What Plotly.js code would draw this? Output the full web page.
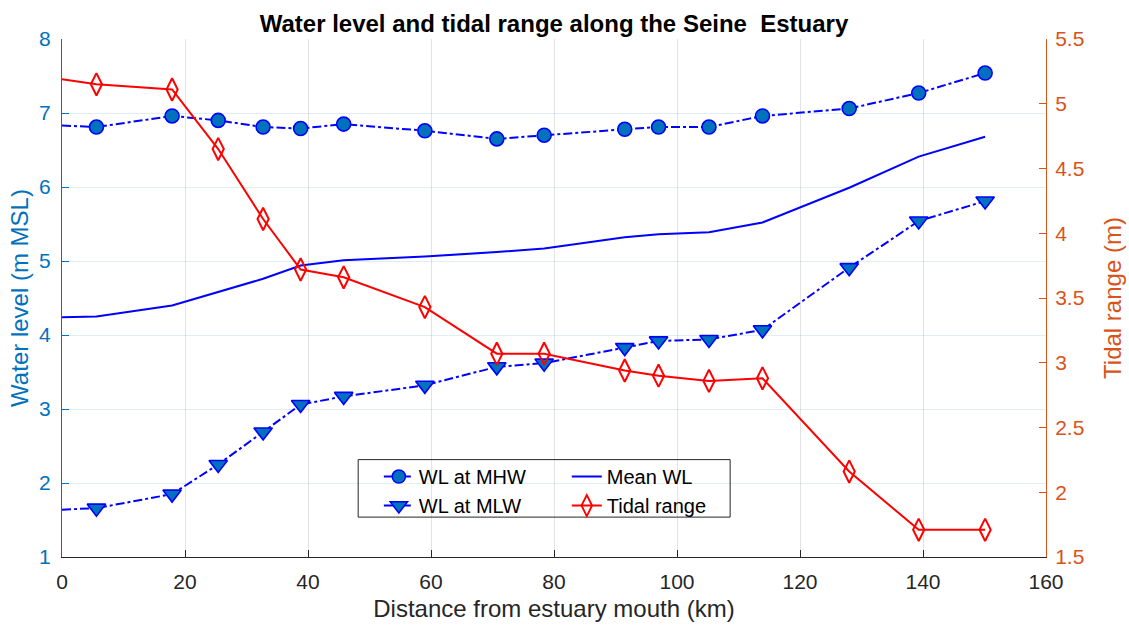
<!DOCTYPE html>
<html>
<head>
<meta charset="utf-8">
<script src="https://cdn.plot.ly/plotly-3.0.1.min.js"></script>
<style>html,body{margin:0;padding:0;background:#fff;}#chart{width:1129px;height:626px;}</style>
</head>
<body>
<div id="chart"></div>
<script>
// Data
const distanceKm = [0, 5.6, 17.9, 25.4, 32.7, 38.8, 45.8, 59.0, 70.7, 78.4, 91.5, 97.0, 105.2, 113.9, 128.0, 139.3, 150.1];
const wlMHW      = [6.83, 6.81, 6.96, 6.90, 6.81, 6.79, 6.85, 6.76, 6.65, 6.70, 6.78, 6.81, 6.81, 6.96, 7.06, 7.27, 7.54];
const wlMLW      = [1.64, 1.66, 1.85, 2.25, 2.69, 3.06, 3.17, 3.32, 3.57, 3.62, 3.83, 3.92, 3.94, 4.07, 4.91, 5.54, 5.81];
const meanWL     = [4.24, 4.25, 4.40, 4.58, 4.76, 4.94, 5.01, 5.06, 5.12, 5.17, 5.32, 5.36, 5.39, 5.52, 5.99, 6.41, 6.68];
const tidalRange = [5.19, 5.15, 5.11, 4.65, 4.11, 3.72, 3.66, 3.43, 3.07, 3.07, 2.94, 2.90, 2.86, 2.88, 2.16, 1.71, 1.71];
const seriesNames = ['WL at MHW', 'WL at MLW', 'Mean WL', 'Tidal range'];
const leftTicks = [1, 2, 3, 4, 5, 6, 7, 8];
const rightTicks = [1.5, 2, 2.5, 3, 3.5, 4, 4.5, 5, 5.5];
const xTicks = [0, 20, 40, 60, 80, 100, 120, 140, 160];

const FONT = 'Liberation Sans, Arial, Helvetica, sans-serif';
const BLUE = '#0000FF';
const FILL = '#0072BD';
const ORANGE = '#D95319';
const DARK = '#262626';

// markers only at measuring stations (not at the mouth, x = 0)
const mSize = (s) => distanceKm.map(d => d === 0 ? 0 : s);
const mLine = (w) => distanceKm.map(d => d === 0 ? 0 : w);

const traces = [
  {
    x: distanceKm, y: wlMHW, name: seriesNames[0], type: 'scatter', mode: 'lines+markers',
    line: {color: BLUE, width: 2, dash: 'dashdot'},
    marker: {symbol: 'circle', size: mSize(14), opacity: 1, color: FILL, line: {color: BLUE, width: mLine(1.6)}},
    legend: 'legend', yaxis: 'y'
  },
  {
    x: distanceKm, y: wlMLW, name: seriesNames[1], type: 'scatter', mode: 'lines+markers',
    line: {color: BLUE, width: 2, dash: 'dashdot'},
    marker: {symbol: 'triangle-down', size: mSize(16), opacity: 1, color: FILL, line: {color: BLUE, width: mLine(1.6)}},
    legend: 'legend', yaxis: 'y'
  },
  {
    x: distanceKm, y: meanWL, name: seriesNames[2], type: 'scatter', mode: 'lines',
    line: {color: BLUE, width: 2},
    legend: 'legend2', yaxis: 'y'
  },
  {
    x: distanceKm, y: tidalRange, name: seriesNames[3], type: 'scatter', mode: 'lines+markers',
    line: {color: '#FF0000', width: 2},
    marker: {symbol: 'diamond-tall-open', size: mSize(16), opacity: 1, color: '#FF0000', line: {color: '#FF0000', width: mLine(2)}},
    legend: 'legend2', yaxis: 'y2'
  }
];

const legendCommon = {
  orientation: 'v', xanchor: 'left', yanchor: 'top', bgcolor: 'rgba(0,0,0,0)',
  borderwidth: 0, font: {family: FONT, size: 20, color: '#000'},
  tracegroupgap: 0
};

const layout = {
  width: 1129, height: 626,
  margin: {l: 62, r: 83, t: 39, b: 69},
  paper_bgcolor: '#fff', plot_bgcolor: '#fff',
  font: {family: FONT, color: DARK},
  showlegend: true,
  title: {
    text: '<b>Water level and tidal range along the Seine\u00a0 Estuary</b>',
    font: {family: FONT, size: 24, color: '#000'},
    x: 0.5, xref: 'paper', xanchor: 'center', y: 0.962, yref: 'container', yanchor: 'middle'
  },
  xaxis: {
    range: [0, 160], tickvals: xTicks, ticks: 'inside', ticklen: 7, tickcolor: DARK, tickwidth: 1,
    showline: true, linecolor: DARK, linewidth: 1, zeroline: false,
    showgrid: true, gridcolor: 'rgba(38,38,38,0.13)', gridwidth: 1,
    tickfont: {family: FONT, size: 21, color: DARK},
    ticklabelstandoff: 6,
    title: {text: 'Distance from estuary mouth (km)', font: {family: FONT, size: 24, color: DARK}, standoff: 7},
    fixedrange: true
  },
  yaxis: {
    range: [1, 8], tickvals: leftTicks, ticks: 'inside', ticklen: 7, tickcolor: FILL,
    showline: true, linecolor: FILL, linewidth: 1, zeroline: false,
    showgrid: true, gridcolor: 'rgba(0,114,189,0.12)', gridwidth: 1,
    tickfont: {family: FONT, size: 21, color: FILL},
    ticklabelstandoff: 6,
    title: {text: 'Water level (m MSL)', font: {family: FONT, size: 24, color: FILL}, standoff: 3},
    fixedrange: true
  },
  yaxis2: {
    range: [1.5, 5.5], tickvals: rightTicks, overlaying: 'y', side: 'right', anchor: 'x',
    ticks: 'inside', ticklen: 7, tickcolor: ORANGE,
    showline: true, linecolor: ORANGE, linewidth: 1, zeroline: false, showgrid: false,
    tickfont: {family: FONT, size: 21, color: ORANGE},
    ticklabelstandoff: 4,
    title: {text: 'Tidal range (m)', font: {family: FONT, size: 24, color: ORANGE}, standoff: 20},
    fixedrange: true
  },
  legend: Object.assign({}, legendCommon, {x: 0.322, y: 0.193}),
  legend2: Object.assign({}, legendCommon, {x: 0.513, y: 0.193}),
  shapes: [{
    type: 'rect', xref: 'paper', yref: 'paper', x0: 0.301, x1: 0.679, y0: 0.077, y1: 0.188,
    line: {color: DARK, width: 1}, fillcolor: '#fff', layer: 'below'
  }]
};

Plotly.newPlot('chart', traces, layout, {displayModeBar: false, staticPlot: true});
</script>
</body>
</html>
